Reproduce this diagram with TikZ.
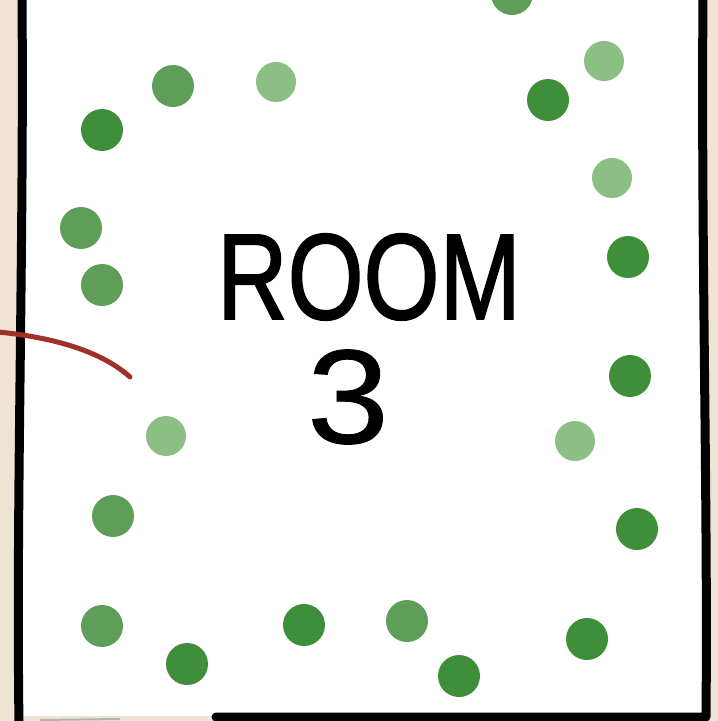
\documentclass[tikz,border=0pt]{standalone}
\usepackage{fontspec}
\setmainfont{Liberation Sans}
\newfontfamily\handfont[FakeBold=1.6]{Liberation Sans}
\newfontfamily\digitfont[FakeBold=0.6]{Liberation Sans}
\begin{document}
\begin{tikzpicture}[x=1pt,y=-1pt,
  wall/.style={line width=9pt,black,line cap=round,line join=round},
  dotd/.style={circle,fill=dotdark,inner sep=0pt,minimum size=42pt},
  dotm/.style={circle,fill=dotmid,inner sep=0pt,minimum size=42pt},
  dotl/.style={circle,fill=dotlight,inner sep=0pt,minimum size=40pt},
  label/.style={inner sep=0pt,text=black}]
\definecolor{dotdark}{HTML}{3F8F3A}
\definecolor{dotmid}{HTML}{5E9E58}
\definecolor{dotlight}{HTML}{8CBF84}
\definecolor{beige}{HTML}{EFE3D4}
\definecolor{wallred}{HTML}{A0302A}
\useasboundingbox (0,0) rectangle (718,721);
\fill[beige] (0,0) rectangle (718,721);
\fill[white] (20,0) rectangle (706,716);
% dots
\node[dotm] (d1) at (173,86) {};
\node[dotl] (d2) at (276,82) {};
\node[dotd] (d3) at (102,130) {};
\node[dotd] (d4) at (548,100) {};
\node[dotl] (d5) at (604,61) {};
\node[dotm] (d6) at (512,-6) {};
\node[dotm] (d7) at (81,228) {};
\node[dotm] (d8) at (102,285) {};
\node[dotl] (d9) at (612,178) {};
\node[dotd] (d10) at (628,257) {};
\node[dotd] (d11) at (630,376) {};
\node[dotl] (d12) at (166,436) {};
\node[dotl] (d13) at (575,441) {};
\node[dotm] (d14) at (113,516) {};
\node[dotd] (d15) at (637,529) {};
\node[dotm] (d16) at (102,626) {};
\node[dotd] (d17) at (187,664) {};
\node[dotd] (d18) at (304,625) {};
\node[dotm] (d19) at (407,621) {};
\node[dotd] (d20) at (459,676) {};
\node[dotd] (d21) at (587,639) {};
% walls
\draw[wall] (22,-5) .. controls (24,250) and (16,500) .. (19,725);
\draw[wall] (703,-5) .. controls (701,250) and (708,500) .. (706,717) -- (216,717);
\draw[gray!60,line width=2pt] (40,720) -- (120,719);
% red line
\coordinate (r0) at (-2,332);
\coordinate (r1) at (130,377);
\draw[wallred,line width=5pt,line cap=round] (r0) .. controls (50,337) and (100,350) .. (r1);
% text
\node[label,xscale=0.8] (room) at (369,277) {\handfont\fontsize{122}{122}\selectfont ROOM};
\node[label,xscale=1.1] (three) at (348,397) {\digitfont\fontsize{134}{134}\selectfont 3};
\end{tikzpicture}
\end{document}
